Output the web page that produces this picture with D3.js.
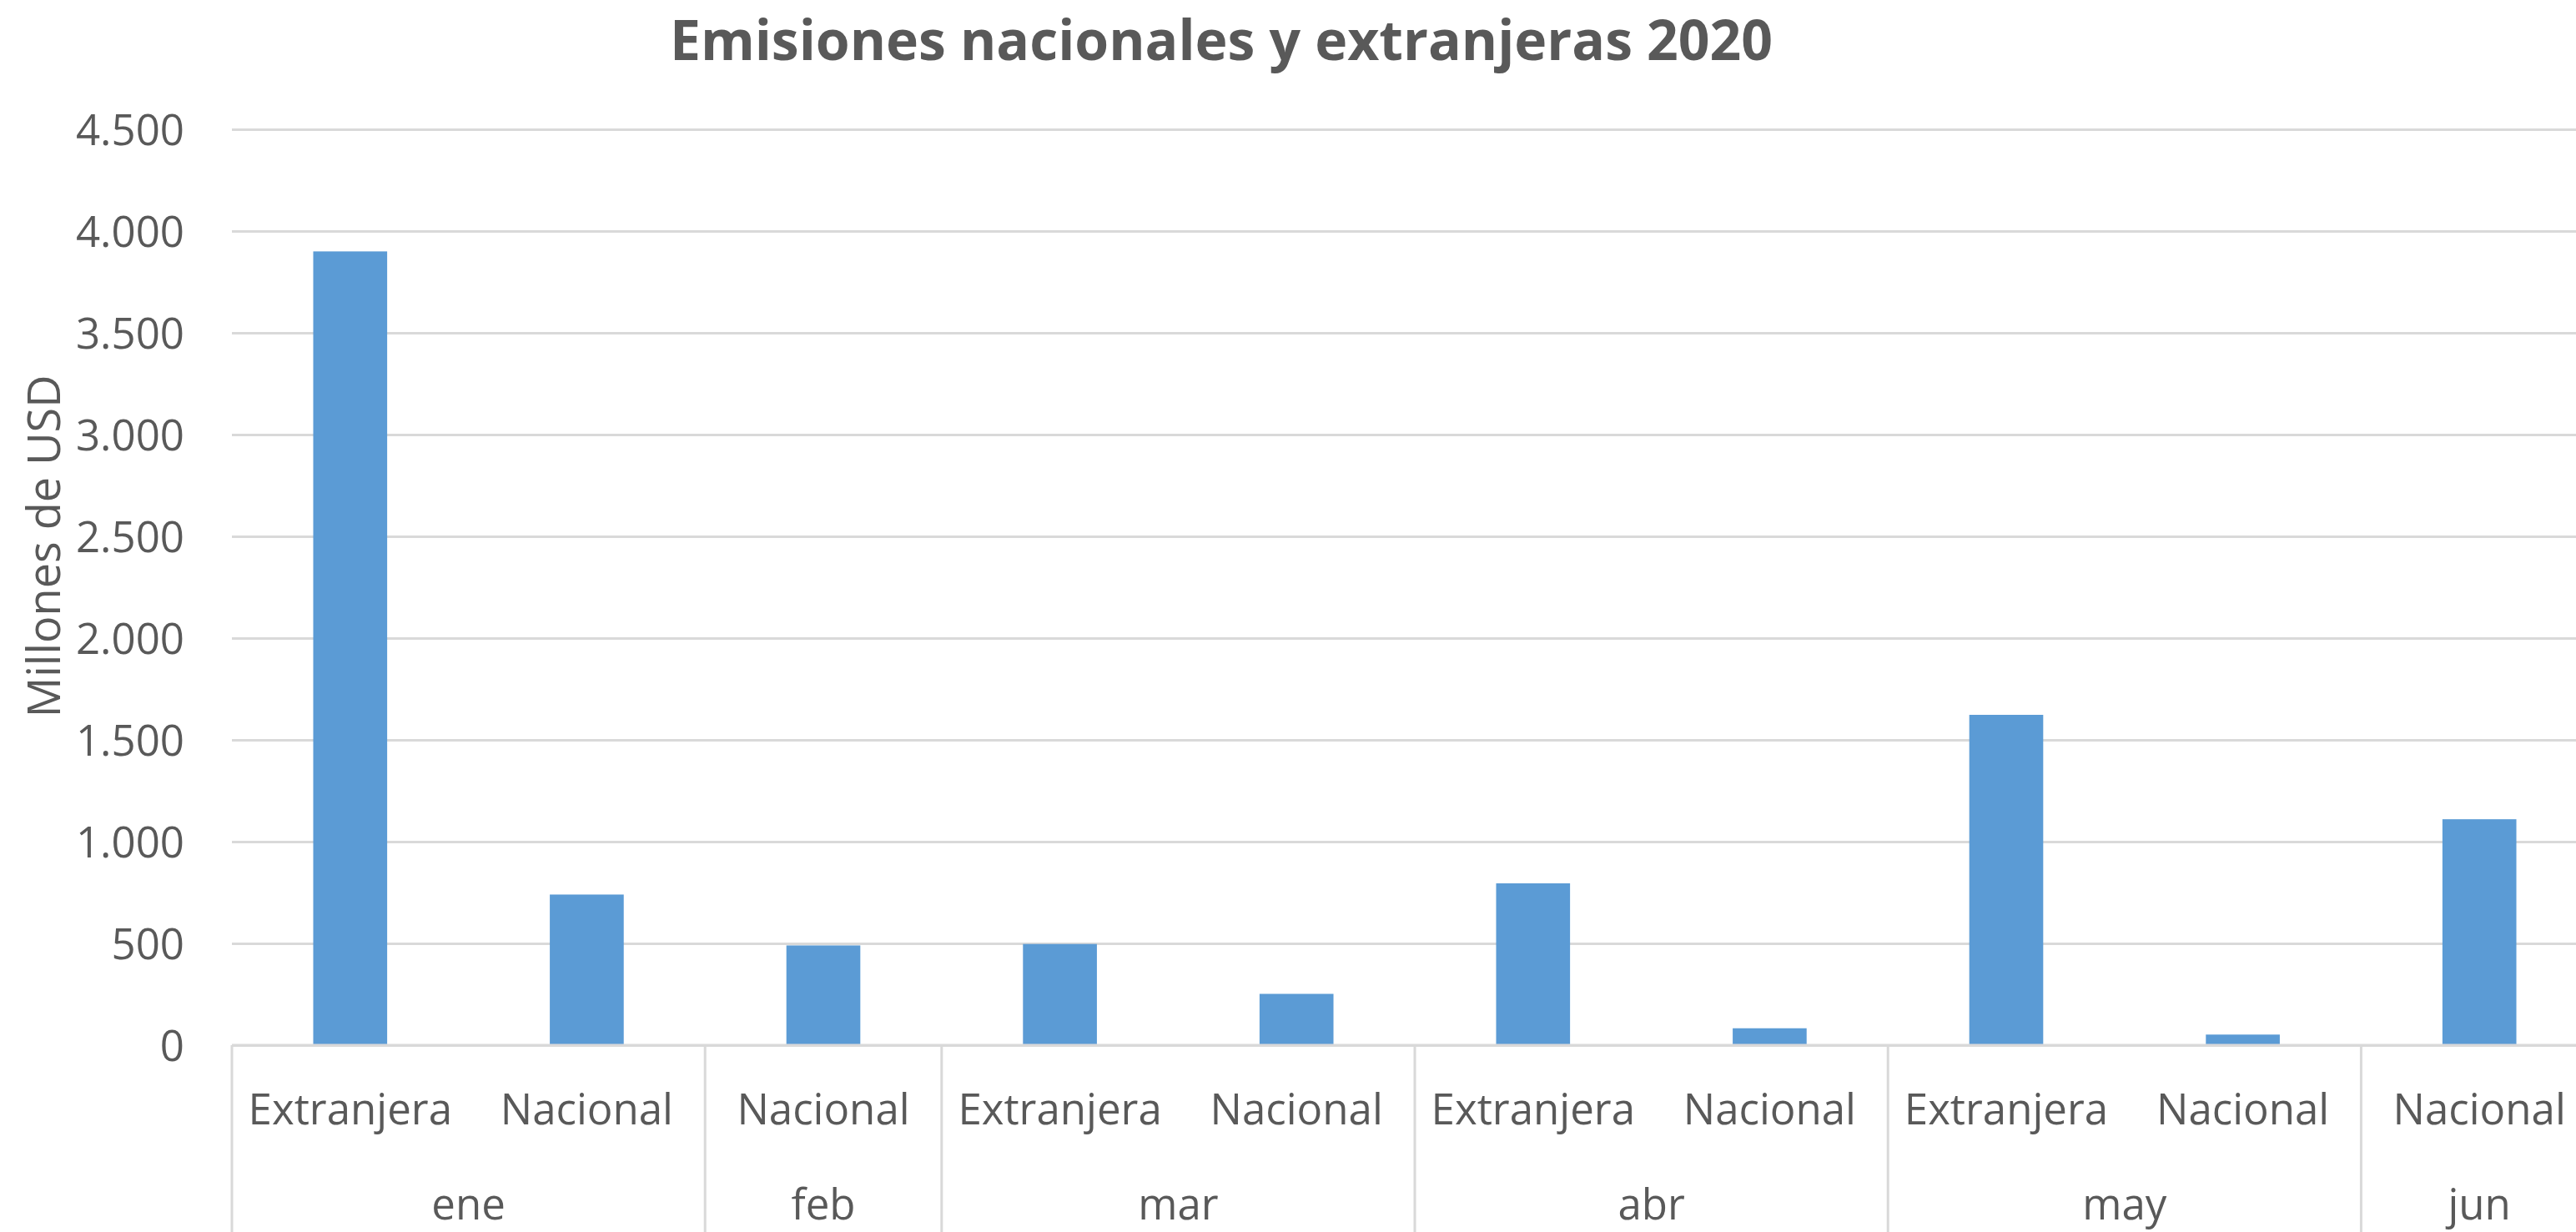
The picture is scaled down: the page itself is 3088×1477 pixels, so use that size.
<!DOCTYPE html>
<html>
<head>
<meta charset="utf-8">
<script src="https://cdn.jsdelivr.net/npm/d3@7"></script>
<style>
  html, body { margin: 0; padding: 0; background: #ffffff; }
  svg { display: block; }
  text { font-family: "Open Sans", "Noto Sans", sans-serif; fill: #595959; }
</style>
</head>
<body>
<div id="chart"></div>
<script>
// ---- Data ----
const months = ["ene", "ene", "feb", "mar", "mar", "abr", "abr", "may", "may", "jun"];
const types  = ["Extranjera", "Nacional", "Nacional", "Extranjera", "Nacional",
                "Extranjera", "Nacional", "Extranjera", "Nacional", "Nacional"];
const values = [3900, 740, 490, 497, 252, 795, 83, 1623, 52, 1110];
const yTicks = [0, 500, 1000, 1500, 2000, 2500, 3000, 3500, 4000, 4500];
const titleText = "Emisiones nacionales y extranjeras 2020";
const yTitleText = "Millones de USD";

// ---- Layout ----
const W = 3088, H = 1477;
const plotLeft = 278, plotRight = 3114, plotTop = 155, plotBottom = 1253;

const svg = d3.select("#chart").append("svg")
  .attr("width", W).attr("height", H)
  .attr("viewBox", `0 0 ${W} ${H}`);

const keys = values.map((d, i) => i);
const x = d3.scaleBand()
  .domain(keys)
  .range([plotLeft, plotRight])
  .paddingInner(0.6875)
  .paddingOuter(0.6875 / 2);

const y = d3.scaleLinear().domain([0, 4500]).range([plotBottom, plotTop]);

const locale = d3.formatLocale({ decimal: ",", thousands: ".", grouping: [3], currency: ["", ""] });
const fmt = locale.format(",");

// Gridlines + y labels
const yAxis = d3.axisLeft(y)
  .tickValues(yTicks)
  .tickFormat(fmt)
  .tickSize(-(plotRight - plotLeft))
  .tickPadding(57);

const gy = svg.append("g")
  .attr("transform", `translate(${plotLeft},0)`)
  .call(yAxis);
gy.select(".domain").remove();
gy.selectAll(".tick line").attr("stroke", "#d9d9d9").attr("stroke-width", 3);
gy.selectAll(".tick text")
  .attr("font-size", 51)
  .attr("fill", "#595959")
  .attr("dy", "0.36em")
  .style("font-family", '"Open Sans", "Noto Sans", sans-serif');

// Bars
svg.append("g").selectAll("rect")
  .data(values)
  .join("rect")
  .attr("x", (d, i) => x(i))
  .attr("width", x.bandwidth())
  .attr("y", d => y(d))
  .attr("height", d => y(0) - y(d))
  .attr("fill", "#5B9BD5");

// X axis line
svg.append("line")
  .attr("x1", plotLeft).attr("x2", plotRight)
  .attr("y1", plotBottom).attr("y2", plotBottom)
  .attr("stroke", "#d9d9d9").attr("stroke-width", 3);

// First-level labels (types)
const step = x.step();
svg.append("g").selectAll("text")
  .data(types)
  .join("text")
  .attr("x", (d, i) => x(i) + x.bandwidth() / 2)
  .attr("y", 1348)
  .attr("text-anchor", "middle")
  .attr("font-size", 51)
  .text(d => d);

// Month groups
const groups = [];
months.forEach((m, i) => {
  const last = groups[groups.length - 1];
  if (last && last.month === m) last.end = i;
  else groups.push({ month: m, start: i, end: i });
});
const slotLeft = i => x(i) + x.bandwidth() / 2 - step / 2;
const slotRight = i => x(i) + x.bandwidth() / 2 + step / 2;

// separators
const seps = [slotLeft(0)].concat(groups.map(g => slotRight(g.end)));
svg.append("g").selectAll("line")
  .data(seps)
  .join("line")
  .attr("x1", d => d).attr("x2", d => d)
  .attr("y1", plotBottom).attr("y2", H + 10)
  .attr("stroke", "#d9d9d9").attr("stroke-width", 3);

svg.append("g").selectAll("text")
  .data(groups)
  .join("text")
  .attr("x", g => (slotLeft(g.start) + slotRight(g.end)) / 2)
  .attr("y", 1462)
  .attr("text-anchor", "middle")
  .attr("font-size", 51)
  .text(g => g.month);

// Title
svg.append("text")
  .attr("x", 1464).attr("y", 72)
  .attr("text-anchor", "middle")
  .attr("font-size", 66)
  .attr("font-weight", "bold")
  .text(titleText);

// Y axis title
svg.append("text")
  .attr("transform", `translate(72,655) rotate(-90)`)
  .attr("text-anchor", "middle")
  .attr("font-size", 54)
  .text(yTitleText);
</script>
</body>
</html>
